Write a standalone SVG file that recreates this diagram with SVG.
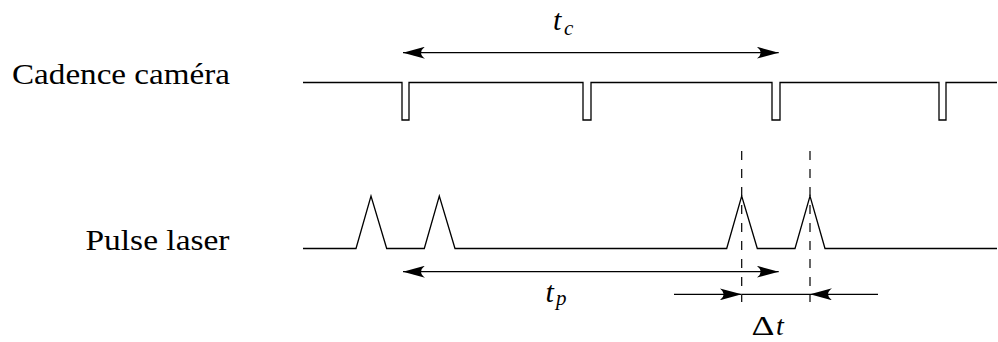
<svg xmlns="http://www.w3.org/2000/svg" width="998" height="342" viewBox="0 0 998 342">
<style>
.sig{fill:none;stroke:#000;stroke-width:1.3;stroke-linejoin:miter}
.arr{fill:none;stroke:#000;stroke-width:1.2}
.dash{fill:none;stroke:#000;stroke-width:1.2;stroke-dasharray:9 9}
.lbl{font-family:"Liberation Serif","DejaVu Serif",serif;font-size:30px;fill:#000}
.it{font-family:"Liberation Serif","DejaVu Serif",serif;font-style:italic;fill:#000}
</style>
<defs>
<marker id="ah" viewBox="0 -6 22 12" refX="22" refY="0" markerWidth="22" markerHeight="12" markerUnits="userSpaceOnUse" orient="auto-start-reverse">
<path d="M0,-6 Q8,0 0,6 L22,0 Z" fill="#000"/>
</marker>
</defs>
<rect width="998" height="342" fill="#fff"/>
<g id="camera">
<text class="lbl" x="230" y="83.5" text-anchor="end" textLength="218" lengthAdjust="spacingAndGlyphs">Cadence caméra</text>
<path class="sig" d="M303,82.5 H402 V120 H409 V82.5 H583 V120 H591 V82.5 H772 V120 H780 V82.5 H939 V120 H946 V82.5 H997"/>
</g>
<g id="laser">
<text class="lbl" x="229.5" y="249.5" text-anchor="end" textLength="144" lengthAdjust="spacingAndGlyphs">Pulse laser</text>
<path class="sig" d="M303,248.5 H356 L371,196 L386.7,248.5 H424.3 L439.3,196 L455,248.5 H726.7 L741.7,196 L757.3,248.5 H795 L810,196 L825,248.5 H997"/>
</g>
<g id="connectors">
<line class="arr" x1="403" y1="52.7" x2="778.7" y2="52.7" marker-start="url(#ah)" marker-end="url(#ah)"/>
<line class="arr" x1="403" y1="271.7" x2="778.7" y2="271.7" marker-start="url(#ah)" marker-end="url(#ah)"/>
<line class="dash" x1="741.7" y1="151" x2="741.7" y2="302"/>
<line class="dash" x1="810" y1="151" x2="810" y2="302"/>
<line class="arr" x1="674" y1="294.3" x2="741.7" y2="294.3" marker-end="url(#ah)"/>
<line class="arr" x1="741.7" y1="294.3" x2="810" y2="294.3"/>
<line class="arr" x1="878" y1="294.3" x2="810" y2="294.3" marker-end="url(#ah)"/>
</g>
<g id="labels">
<text class="it" x="553" y="30" font-size="30">t</text>
<text class="it" x="564" y="35" font-size="21">c</text>
<text class="it" x="545.5" y="301.7" font-size="30">t</text>
<text class="it" x="556" y="305" font-size="21">p</text>
<text class="lbl" x="751.5" y="335" font-size="28" style="font-size:28px" textLength="23" lengthAdjust="spacingAndGlyphs">Δ</text>
<text class="it" x="776" y="335" font-size="28">t</text>
</g>
</svg>
